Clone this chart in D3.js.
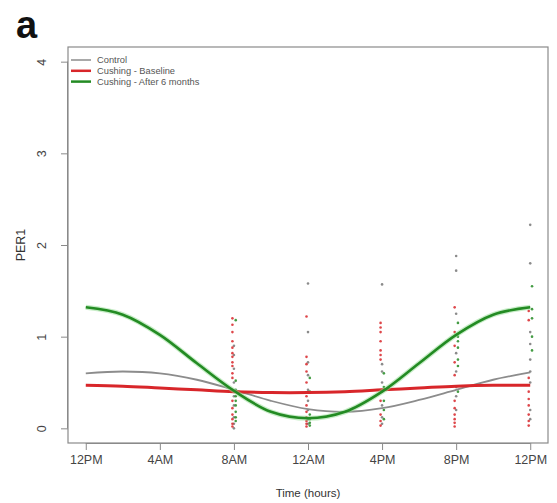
<!DOCTYPE html>
<html>
<head>
<meta charset="utf-8">
<script src="https://cdn.jsdelivr.net/npm/d3@7"></script>
<style>
  body { margin: 0; background: #fff; }
  svg { display: block; font-family: "Liberation Sans", Arial, sans-serif; }
</style>
</head>
<body>
<svg id="chart" width="557" height="503"></svg>
<script>
// Sampling times (hours after 12PM) and tick labels
const fitHours = [0, 2, 4, 6, 8, 10, 12, 14, 16, 18, 20, 22, 24];
const tickHours = [0, 4, 8, 12, 16, 20, 24];
const tickLabels = ["12PM", "4AM", "8AM", "12AM", "4PM", "8PM", "12PM"];
const yTicks = [0, 1, 2, 3, 4];

// Fitted curves of PER1 expression
const fitControl  = [0.60, 0.62, 0.60, 0.53, 0.42, 0.30, 0.21, 0.18, 0.22, 0.31, 0.42, 0.53, 0.61];
const fitBaseline = [0.47, 0.46, 0.44, 0.42, 0.40, 0.39, 0.39, 0.40, 0.42, 0.44, 0.46, 0.47, 0.47];
const fitAfter6m  = [1.32, 1.24, 1.02, 0.71, 0.41, 0.18, 0.11, 0.18, 0.40, 0.71, 1.02, 1.24, 1.32];

// Sample times for the individual measurements
const sampleHours = [8, 12, 16, 20, 24];

// Individual measurements per sample time
const ptsControl = [
  [0.90, 0.80, 0.65, 0.50, 0.35, 0.25, 0.12, 0.05, 0.00],
  [1.58, 1.05, 0.72, 0.58, 0.42, 0.30, 0.20, 0.10, 0.05],
  [1.57, 0.70, 0.62, 0.50, 0.40, 0.25, 0.12, 0.05],
  [1.88, 1.72, 1.25, 0.82, 0.62, 0.45, 0.35, 0.20],
  [2.22, 1.80, 1.05, 0.92, 0.75, 0.62, 0.50, 0.20, 0.10]
];
const ptsBaseline = [
  [1.20, 1.13, 1.05, 0.95, 0.88, 0.82, 0.78, 0.72, 0.68, 0.60, 0.55, 0.40, 0.30, 0.22, 0.15, 0.10, 0.05, 0.02],
  [1.22, 0.78, 0.70, 0.62, 0.50, 0.35, 0.25, 0.18, 0.12, 0.08, 0.05, 0.02],
  [1.15, 1.10, 1.05, 0.95, 0.85, 0.80, 0.75, 0.30, 0.15, 0.08, 0.03],
  [1.32, 1.05, 0.90, 0.72, 0.58, 0.30, 0.22, 0.15, 0.10, 0.06, 0.02],
  [1.28, 1.18, 0.55, 0.40, 0.32, 0.25, 0.15, 0.08, 0.03]
];
const ptsAfter6m = [
  [1.18, 0.52, 0.42, 0.35, 0.30, 0.25, 0.18, 0.12, 0.08],
  [0.55, 0.40, 0.15, 0.10, 0.06, 0.03],
  [0.60, 0.45, 0.30, 0.20, 0.10],
  [1.15, 1.00, 0.95, 0.88, 0.75, 0.68, 0.40],
  [1.55, 1.30, 1.20, 1.00, 0.85]
];

const seriesNames = ["Control", "Cushing - Baseline", "Cushing - After 6 months"];

const colors = { control: "#8c8c8c", baseline: "#d8262a", after: "#238b23" };

const svg = d3.select("#chart");
const plot = { left: 68, right: 548, top: 47, bottom: 443 };

const x = d3.scaleLinear().domain([-0.96, 24.96]).range([plot.left, plot.right]);
const y = d3.scaleLinear().domain([-0.16, 4.16]).range([plot.bottom, plot.top]);

// Panel letter
svg.append("text").attr("x", 16).attr("y", 38)
  .attr("font-size", 38).attr("font-weight", "bold").attr("fill", "#111")
  .text("a");

// Plot frame
svg.append("rect")
  .attr("x", plot.left).attr("y", plot.top)
  .attr("width", plot.right - plot.left).attr("height", plot.bottom - plot.top)
  .attr("fill", "none").attr("stroke", "#8a8a8a").attr("stroke-width", 1.2);

// X axis
const xAxis = d3.axisBottom(x).tickValues(tickHours)
  .tickFormat((d, i) => tickLabels[i]).tickSize(7).tickPadding(5);
const gx = svg.append("g").attr("transform", `translate(0,${plot.bottom})`).call(xAxis);
gx.select(".domain").attr("stroke", "#8a8a8a").attr("d", `M${x(0)},0.5H${x(24)}`);
gx.selectAll(".tick line").attr("stroke", "#8a8a8a");
gx.selectAll(".tick text").attr("font-size", 12.5).attr("fill", "#444")
  .attr("font-family", "'Liberation Sans', Arial, sans-serif");

// Y axis (labels parallel to the axis)
const yAxis = d3.axisLeft(y).tickValues(yTicks).tickFormat(d3.format("d"))
  .tickSize(7).tickPadding(4);
const gy = svg.append("g").attr("transform", `translate(${plot.left},0)`).call(yAxis);
gy.select(".domain").attr("stroke", "#8a8a8a").attr("d", `M-0.5,${y(0)}V${y(4)}`);
gy.selectAll(".tick line").attr("stroke", "#8a8a8a");
gy.selectAll(".tick text")
  .attr("font-size", 12.5).attr("fill", "#444")
  .attr("font-family", "'Liberation Sans', Arial, sans-serif")
  .attr("text-anchor", "middle").attr("dy", null).attr("x", null)
  .attr("transform", "translate(-26,0) rotate(-90)")
  .attr("y", 4);

// Axis titles
svg.append("text").attr("x", x(12)).attr("y", 497)
  .attr("text-anchor", "middle").attr("font-size", 11.5).attr("fill", "#333")
  .text("Time (hours)");
svg.append("text")
  .attr("transform", `translate(25,${y(2)}) rotate(-90)`)
  .attr("text-anchor", "middle").attr("font-size", 12.5).attr("fill", "#333")
  .text("PER1");

// Individual measurements
function drawPoints(groups, color, dx) {
  const flat = [];
  groups.forEach((vals, i) => vals.forEach(v => flat.push({ h: sampleHours[i], v })));
  svg.append("g").selectAll("circle").data(flat).join("circle")
    .attr("cx", d => x(d.h) + dx)
    .attr("cy", d => y(d.v))
    .attr("r", 1.3)
    .attr("fill", color).attr("opacity", 0.85);
}
drawPoints(ptsControl, "#777", 0);
drawPoints(ptsBaseline, colors.baseline, -1.5);
drawPoints(ptsAfter6m, colors.after, 1.8);

// Fitted curves
const line = d3.line()
  .x((d, i) => x(fitHours[i]))
  .y(d => y(d))
  .curve(d3.curveCatmullRom.alpha(0.5));

svg.append("path").datum(fitControl).attr("d", line)
  .attr("fill", "none").attr("stroke", colors.control).attr("stroke-width", 1.8);
svg.append("path").datum(fitBaseline).attr("d", line)
  .attr("fill", "none").attr("stroke", colors.baseline).attr("stroke-width", 3);
svg.append("path").datum(fitAfter6m).attr("d", line)
  .attr("fill", "none").attr("stroke", "#8fdc8f").attr("stroke-width", 5).attr("opacity", 0.5);
svg.append("path").datum(fitAfter6m).attr("d", line)
  .attr("fill", "none").attr("stroke", colors.after).attr("stroke-width", 2.6);

// Legend
const legendColors = [colors.control, colors.baseline, colors.after];
const legendWidths = [1.5, 2.5, 2.5];
const lg = svg.append("g");
seriesNames.forEach((name, i) => {
  const yy = 60 + i * 10.8;
  lg.append("line").attr("x1", 71).attr("x2", 91).attr("y1", yy).attr("y2", yy)
    .attr("stroke", legendColors[i]).attr("stroke-width", legendWidths[i]);
  lg.append("text").attr("x", 97).attr("y", yy + 3)
    .attr("font-size", 9.3).attr("fill", "#555").text(name);
});
</script>
</body>
</html>
